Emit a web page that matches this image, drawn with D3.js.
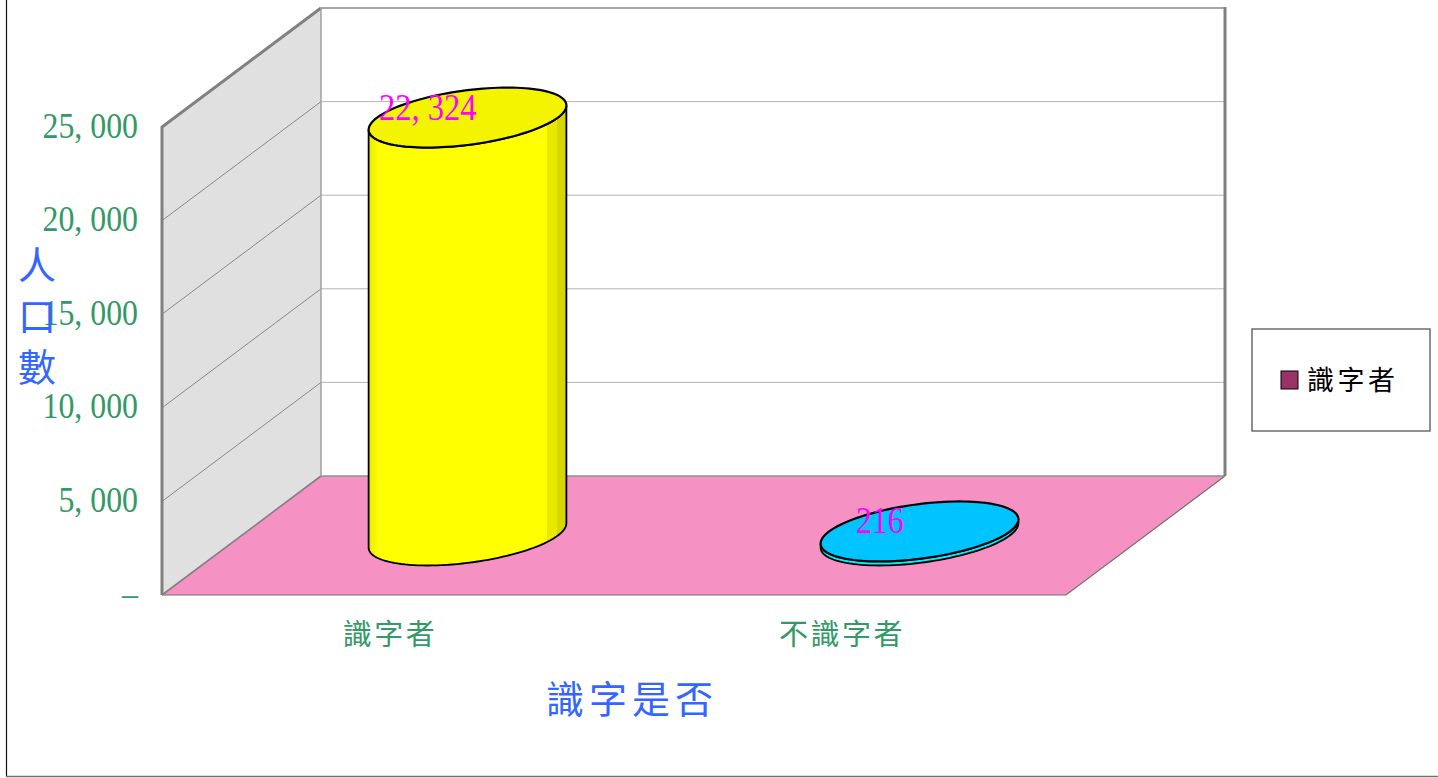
<!DOCTYPE html>
<html>
<head>
<meta charset="utf-8">
<script src="https://cdn.jsdelivr.net/npm/d3@7"></script>
<style>
  html, body { margin: 0; padding: 0; background: #fff; overflow: hidden; }
  text { font-family: "Liberation Serif", "Noto Sans CJK TC", serif; }
</style>
</head>
<body>
<script>
// chart data
const categories = ["識字者", "不識字者"]
const values = [22324, 216]
const valueLabels = ["22, 324", "216"]
const tickValues = [0, 5000, 10000, 15000, 20000, 25000]
const tickLabels = ["–", "5, 000", "10, 000", "15, 000", "20, 000", "25, 000"]
const legendLabels = ["識字者"]
const xTitle = "識字是否"
const yTitle = ["人", "口", "數"]

const width = 1438
const height = 778

// front plane of the 3d box
const left = 162
const right = 1066
const bottom = 595
const top25 = 127
const depthX = 159      // how far the back wall is pushed
const depthY = 119

const svg = d3.select("body").append("svg")
    .attr("width", width)
    .attr("height", height)
    .style("display", "block")

const x = d3.scaleBand().domain(categories).range([left, right])
const y = d3.scaleLinear().domain([0, 25000]).range([bottom, top25])

// outer frame, only left and bottom show up in the shot
svg.append("path")
    .attr("d", "M6.5,0V776.5")
    .attr("stroke", "#111").attr("stroke-width", 1.2).attr("fill", "none")
svg.append("path")
    .attr("d", "M6,776.5H1438")
    .attr("stroke", "#707070").attr("stroke-width", 1.4).attr("fill", "none")

// back wall
svg.append("rect")
    .attr("x", left + depthX).attr("y", y(25000) - depthY)
    .attr("width", right - left).attr("height", bottom - top25)
    .attr("fill", "#fff")

// side wall
svg.append("polygon")
    .attr("points", [[left, y(0)], [left, y(25000)], [left + depthX, y(25000) - depthY], [left + depthX, y(0) - depthY]].join(" "))
    .attr("fill", "#e0e0e0")

// gridlines
tickValues.slice(1, -1).forEach(v => {
    svg.append("line")
        .attr("x1", left).attr("y1", y(v))
        .attr("x2", left + depthX).attr("y2", y(v) - depthY)
        .attr("stroke", "#707070").attr("stroke-width", 0.8)
    svg.append("line")
        .attr("x1", left + depthX).attr("y1", y(v) - depthY)
        .attr("x2", right + depthX).attr("y2", y(v) - depthY)
        .attr("stroke", "#b4b4b4").attr("stroke-width", 1)
})

// floor
svg.append("polygon")
    .attr("points", [[left, bottom], [right, bottom], [right + depthX, bottom - depthY], [left + depthX, bottom - depthY]].join(" "))
    .attr("fill", "#f591c3")
svg.append("path")
    .attr("d", `M${left},${bottom}L${left + depthX},${bottom - depthY}`)
    .attr("stroke", "#808080").attr("stroke-width", 1.6)
svg.append("path")
    .attr("d", `M${left},${bottom}H${right}L${right + depthX},${bottom - depthY}`)
    .attr("stroke", "#707070").attr("stroke-width", 1.2).attr("fill", "none")
svg.append("path")
    .attr("d", `M${left + depthX},${bottom - depthY}H${right + depthX}`)
    .attr("stroke", "#909090").attr("stroke-width", 1.5).attr("fill", "none")

// back wall edges, right one is the thick one
svg.append("path")
    .attr("d", `M${left + depthX},${y(25000) - depthY}H${right + depthX}`)
    .attr("stroke", "#888").attr("stroke-width", 1.6)
svg.append("path")
    .attr("d", `M${right + depthX},${y(25000) - depthY - 1}V${bottom - depthY}`)
    .attr("stroke", "#808080").attr("stroke-width", 3)

// thick outer edges of side wall
svg.append("path")
    .attr("d", `M${left},${bottom}V${y(25000)}L${left + depthX},${y(25000) - depthY}`)
    .attr("stroke", "#808080").attr("stroke-width", 3).attr("fill", "none")
svg.append("path")
    .attr("d", `M${left + depthX},${y(25000) - depthY}V${bottom - depthY}`)
    .attr("stroke", "#a0a0a0").attr("stroke-width", 1.5)

// cylinders
const colours = [
    { top: "#f4f400", side: "#ffff00", light: "#e8e800", dark: "#d6d600" },
    { top: "#00c4ff", side: "#00f0ff", light: "#00d0e0", dark: "#00b0c0" }
]
const radiusX = x.bandwidth() * 0.2
const radiusDepth = 0.252

const defs = svg.append("defs")
colours.forEach((c, i) => {
    const g = defs.append("linearGradient").attr("id", "side" + i)
    g.append("stop").attr("offset", 0).attr("stop-color", c.light)
    g.append("stop").attr("offset", 0.05).attr("stop-color", c.side)
    g.append("stop").attr("offset", 0.9).attr("stop-color", c.side)
    g.append("stop").attr("offset", 0.9).attr("stop-color", c.light)
    g.append("stop").attr("offset", 0.955).attr("stop-color", c.light)
    g.append("stop").attr("offset", 0.955).attr("stop-color", c.dark)
    g.append("stop").attr("offset", 1).attr("stop-color", c.dark)
})

const rimX = radiusDepth * depthX
const rimY = radiusDepth * depthY
const t0 = Math.atan2(rimX, radiusX)

function rim(cx, cy, t) {
    return [cx + radiusX * Math.cos(t) + rimX * Math.sin(t), cy - rimY * Math.sin(t)]
}
const line = d3.line()

categories.forEach((cat, i) => {
    const cx = x(cat) + x.bandwidth() / 2 + depthX / 2
    const baseY = y(0) - depthY / 2
    const topY = y(values[i]) - depthY / 2

    // side: front half of the base rim, then back up along the front half of the top rim
    const steps = d3.range(0, 61).map(k => t0 - Math.PI * k / 60)
    const sidePts = steps.map(t => rim(cx, baseY, t))
        .concat(steps.slice().reverse().map(t => rim(cx, topY, t)))
    svg.append("path")
        .attr("d", line(sidePts) + "Z")
        .attr("fill", `url(#side${i})`)
        .attr("stroke", "#000").attr("stroke-width", 1.8)

    const topPts = d3.range(0, 120).map(k => rim(cx, topY, Math.PI * 2 * k / 120))
    svg.append("path")
        .attr("d", line(topPts) + "Z")
        .attr("fill", colours[i].top)
        .attr("stroke", "#000").attr("stroke-width", 2.2)

    // value label sits on the front-plane center of the bar
    svg.append("text")
        .attr("class", "squeeze")
        .attr("data-k", i == 0 ? 0.88 : 0.86)
        .attr("x", cx - depthX / 4)
        .attr("y", topY + 2)
        .attr("text-anchor", "middle")
        .attr("font-size", 37)
        .attr("fill", "#ff00ff")
        .text(valueLabels[i])
})

// y axis
const yAxis = d3.axisLeft(y)
    .tickValues(tickValues)
    .tickSize(0)
    .tickPadding(24)
    .tickFormat((d, i) => tickLabels[i])

svg.append("g")
    .attr("transform", `translate(${left},0)`)
    .call(yAxis)
    .call(g => g.select(".domain").remove())
    .call(g => g.selectAll("text")
        .attr("class", "squeeze")
        .attr("data-k", 0.91)
        .attr("font-size", 35)
        .attr("font-family", null)
        .attr("fill", "#339966")
        .attr("dy", "0.29em"))

// x axis
const xAxis = d3.axisBottom(x).tickSize(0).tickPadding(29)
svg.append("g")
    .attr("transform", `translate(${2},${bottom})`)
    .call(xAxis)
    .call(g => g.select(".domain").remove())
    .call(g => g.selectAll("text")
        .attr("font-size", 29)
        .attr("font-family", null)
        .attr("letter-spacing", 2.5)
        .attr("fill", "#339966"))

// squeeze the digits, they are narrower in the original font
svg.selectAll("text.squeeze").each(function () {
    const t = d3.select(this)
    t.attr("textLength", this.getComputedTextLength() * +t.attr("data-k"))
        .attr("lengthAdjust", "spacingAndGlyphs")
})

// axis titles
svg.append("text")
    .attr("x", 632).attr("y", 713)
    .attr("text-anchor", "middle")
    .attr("font-size", 38)
    .attr("letter-spacing", 5)
    .attr("fill", "#3366ff")
    .text(xTitle)

svg.selectAll(".ytitle")
    .data(yTitle)
    .enter().append("text")
    .attr("class", "ytitle")
    .attr("x", 37)
    .attr("y", (d, i) => 279 + i * 51)
    .attr("text-anchor", "middle")
    .attr("font-size", 38)
    .attr("fill", "#3366ff")
    .text(d => d)

// legend
svg.append("rect")
    .attr("x", 1252).attr("y", 329)
    .attr("width", 178).attr("height", 102)
    .attr("fill", "#fff").attr("stroke", "#555").attr("stroke-width", 1.3)
svg.append("rect")
    .attr("x", 1281).attr("y", 371)
    .attr("width", 17).attr("height", 18)
    .attr("fill", "#993366").attr("stroke", "#000")
svg.append("text")
    .attr("x", 1307).attr("y", 390)
    .attr("font-size", 27)
    .attr("letter-spacing", 3.5)
    .attr("fill", "#000")
    .text(legendLabels[0])
</script>
</body>
</html>
